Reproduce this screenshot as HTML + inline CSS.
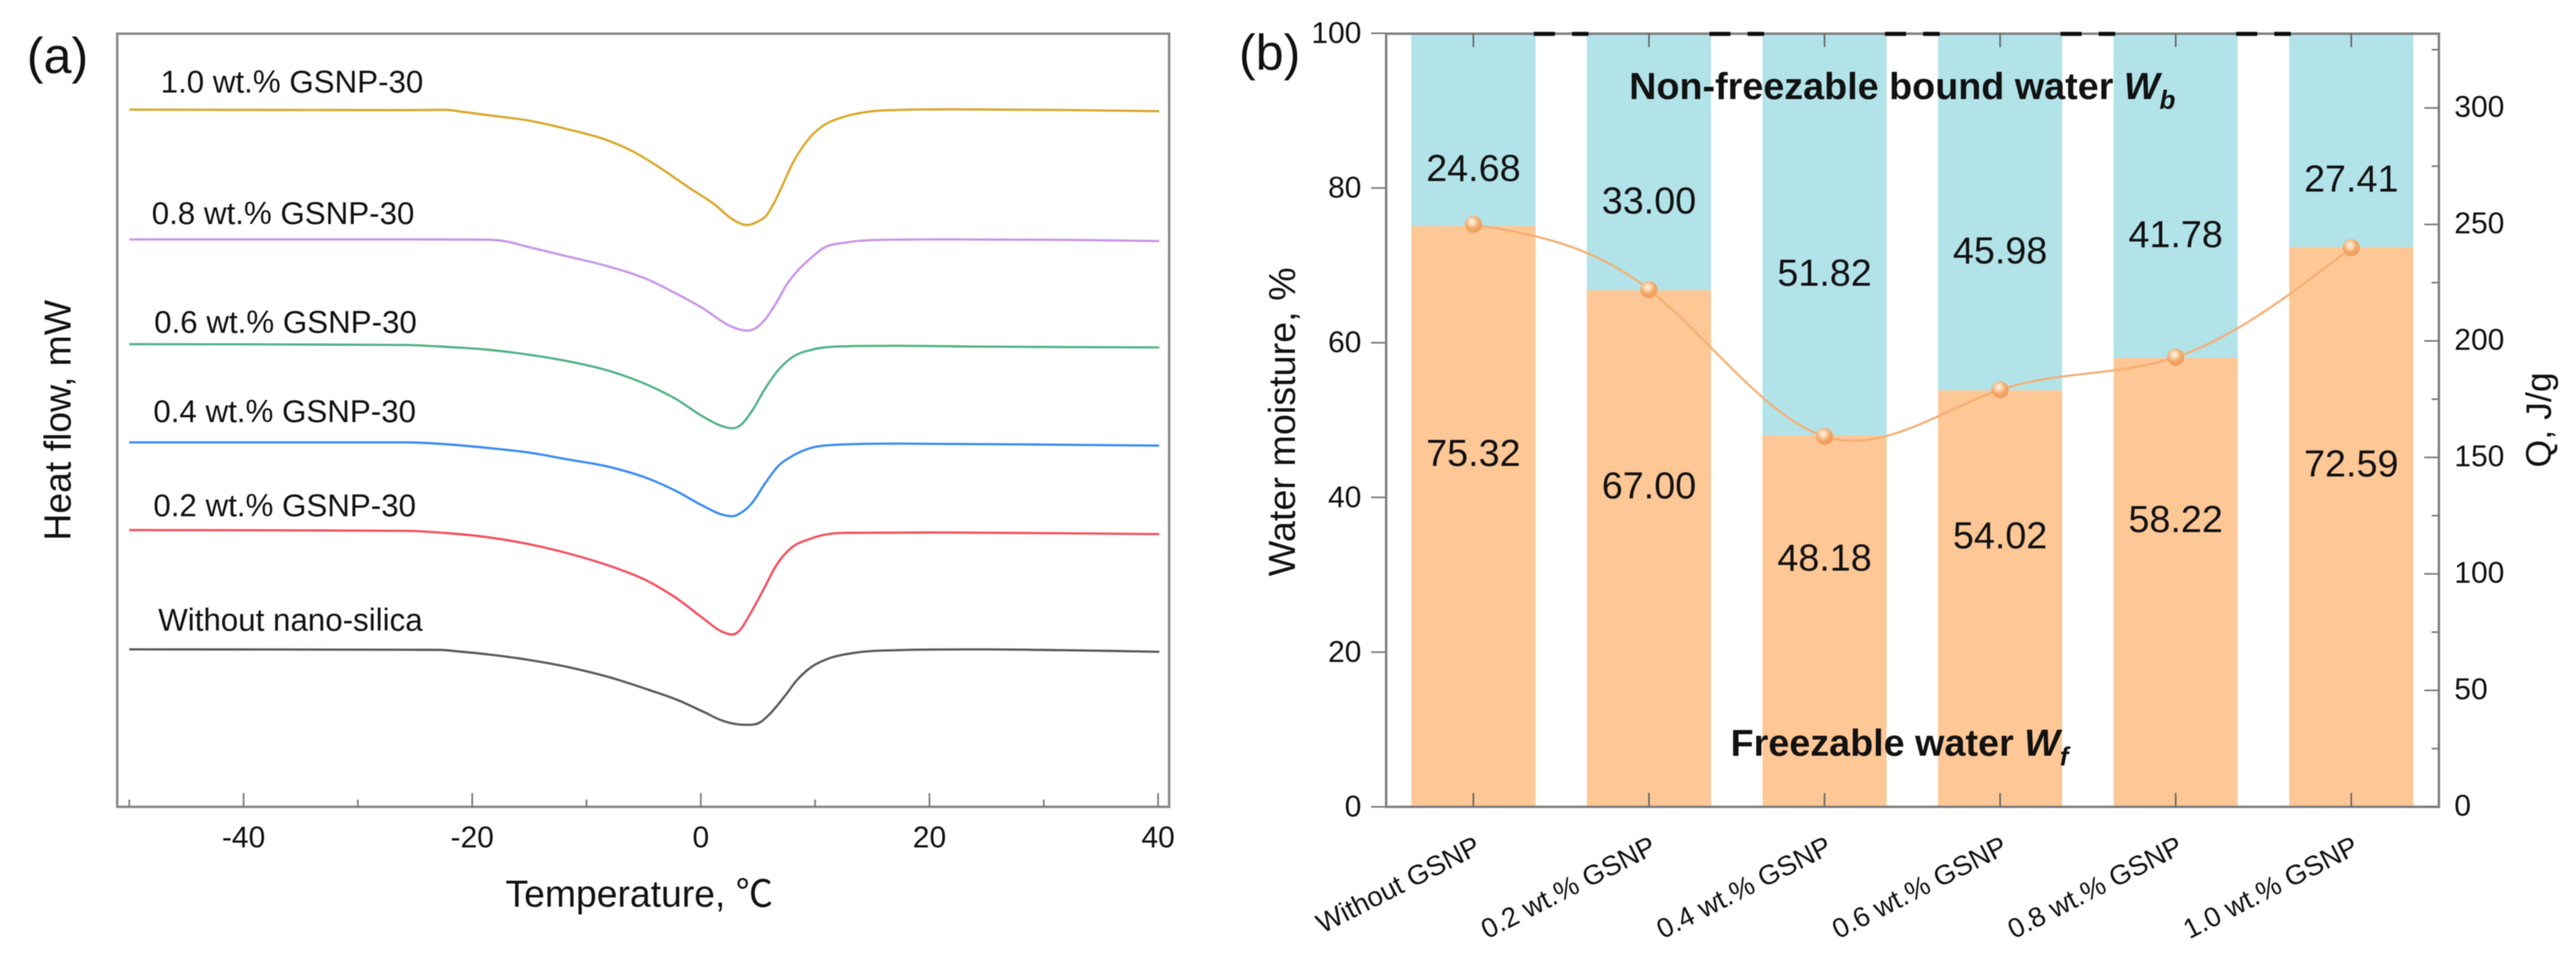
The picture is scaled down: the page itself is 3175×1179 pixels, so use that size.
<!DOCTYPE html>
<html lang="en">
<head>
<meta charset="utf-8">
<title>Heat flow curves and water moisture chart</title>
<style>
html,body{margin:0;padding:0;background:#fff;width:3175px;height:1179px;overflow:hidden}
svg{display:block;filter:blur(0.6px)}
text{font-family:"Liberation Sans","Noto Sans CJK SC",sans-serif;fill:#111}
</style>
</head>
<body>
<svg id="fig" xmlns="http://www.w3.org/2000/svg" width="3175" height="1179" viewBox="0 0 3175 1179">
  <defs>
    <radialGradient id="ball" cx="0.42" cy="0.35" r="0.65">
      <stop offset="0" stop-color="#fff6ea"/>
      <stop offset="0.28" stop-color="#fbd9b4"/>
      <stop offset="0.6" stop-color="#f3a868"/>
      <stop offset="1" stop-color="#ee9c58"/>
    </radialGradient>
  </defs>
  <g id="panelA"></g>
  <g id="panelB"></g>

  <text x="33" y="90" font-size="62">(a)</text>
  <text x="1527" y="86" font-size="62">(b)</text>

  <text x="623" y="1117" font-size="46">Temperature, ℃</text>
  <text transform="translate(87 666) rotate(-90)" font-size="46">Heat flow, mW</text>

  <text x="198" y="114" font-size="38.6">1.0 wt.% GSNP-30</text>
  <text x="187" y="276" font-size="38.6">0.8 wt.% GSNP-30</text>
  <text x="190" y="410" font-size="38.6">0.6 wt.% GSNP-30</text>
  <text x="189" y="520" font-size="38.6">0.4 wt.% GSNP-30</text>
  <text x="189" y="636" font-size="38.6">0.2 wt.% GSNP-30</text>
  <text x="195" y="777" font-size="38.6">Without nano-silica</text>

  <text transform="translate(1596 710) rotate(-90)" font-size="46.5">Water moisture, %</text>
  <text transform="translate(3144 576) rotate(-90)" font-size="44">Q, J/g</text>

  <text x="2008" y="122" font-size="46.5" font-weight="700">Non-freezable bound water <tspan font-style="italic">W</tspan><tspan font-style="italic" font-size="32" dy="12">b</tspan></text>
  <text x="2133" y="931" font-size="46.5" font-weight="700">Freezable water <tspan font-style="italic">W</tspan><tspan font-style="italic" font-size="32" dy="12">f</tspan></text>
</svg>

<script>
// Panel (a): heat flow curves (temperature in deg C, heat flow in arbitrary mW units)
const tempBlack  = [-50,-25.82,-22.74,-21.09,-18.72,-15.17,-11.63,-8.08,-4.53,-2.16,0.2,1.86,3.04,4.04,5.17,6.12,7.3,8.48,9.67,11.04,13.57,17.2,24.4,31.7,40.1];
const flowBlack  = [1.94,1.935,1.933,1.913,1.88,1.813,1.723,1.6,1.44,1.323,1.173,1.063,1.02,1.01,1.04,1.157,1.357,1.573,1.723,1.82,1.90,1.93,1.94,1.93,1.91];
const tempRed    = [-50,-25.82,-22.27,-18.72,-15.17,-11.63,-8.08,-4.53,-2.16,0.2,1.86,2.76,3.4,4.23,5.41,6.59,7.77,9.67,12.49,20.82,31.7,40.1];
const flowRed    = [3.41,3.40,3.373,3.323,3.24,3.123,2.973,2.773,2.573,2.323,2.157,2.123,2.173,2.357,2.657,2.973,3.173,3.307,3.375,3.38,3.37,3.36];
const tempBlue   = [-50,-25.82,-22.27,-18.72,-15.17,-11.63,-8.08,-4.53,-2.16,0.2,1.86,2.76,3.52,4.46,5.64,6.83,8.01,9.67,11.76,17.2,28.06,40.1];
const flowBlue   = [4.49,4.49,4.467,4.423,4.367,4.28,4.19,4.04,3.89,3.707,3.6,3.58,3.623,3.74,3.99,4.207,4.323,4.423,4.46,4.475,4.465,4.45];
const tempGreen  = [-50,-25.82,-22.27,-18.72,-15.17,-11.63,-8.08,-4.53,-2.16,0.2,1.86,2.76,3.52,4.46,5.64,6.83,8.01,9.67,11.76,17.2,24.4,40.1];
const flowGreen  = [5.70,5.69,5.667,5.633,5.573,5.49,5.373,5.19,5.023,4.807,4.69,4.663,4.707,4.873,5.157,5.39,5.54,5.63,5.67,5.68,5.67,5.66];
const tempPurple = [-50,-25.82,-18.72,-17.3,-15.17,-11.63,-8.08,-4.53,-2.16,0.2,2.57,3.4,3.99,4.7,5.64,6.59,7.54,8.48,9.67,10.68,12.85,15.75,20.82,31.7,40.1];
const flowPurple = [6.99,6.99,6.987,6.973,6.90,6.78,6.657,6.49,6.323,6.14,5.923,5.88,5.867,5.89,6.007,6.207,6.44,6.607,6.767,6.88,6.955,6.985,6.99,6.985,6.97];
const tempYellow = [-50,-25.82,-22.27,-21.09,-18.72,-15.17,-11.63,-8.08,-5.71,-3.58,-0.98,1.39,2.57,3.52,4.04,4.93,5.76,6.47,7.3,8.01,8.96,9.67,10.68,12.49,15.02,17.2,21.9,31.7,40.1];
const flowYellow = [8.59,8.583,8.587,8.567,8.523,8.457,8.347,8.207,8.057,7.873,7.623,7.40,7.257,7.183,7.167,7.207,7.29,7.457,7.707,7.923,8.14,8.267,8.39,8.50,8.57,8.585,8.593,8.585,8.57];
const tempMajorTicks = [-40,-20,0,20,40];
const tempMinorTicks = [-50,-30,-10,10,30];

// Panel (b): stacked bars and Q line
const categories = ["Without GSNP","0.2 wt.% GSNP","0.4 wt.% GSNP","0.6 wt.% GSNP","0.8 wt.% GSNP","1.0 wt.% GSNP"];
const freezable  = [75.32,67.00,48.18,54.02,58.22,72.59];
const bound      = [24.68,33.00,51.82,45.98,41.78,27.41];
const qValues    = [250,222,159,179,193,240];
const moistureTicks = [0,20,40,60,80,100];
const qMajorTicks = [0,50,100,150,200,250,300];
const qMinorTicks = [25,75,125,175,225,275,325];

const SVGNS = 'http://www.w3.org/2000/svg';
const panelA = document.getElementById('panelA');
const panelB = document.getElementById('panelB');

function make(tag, attrs, parent) {
  const el = document.createElementNS(SVGNS, tag);
  for (const k in attrs) el.setAttribute(k, attrs[k]);
  parent.appendChild(el);
  return el;
}

// Axis functions, panel (a)
const xTemp = t => 863.8 + 14.09 * t;
const yFlow = v => 994 - 100 * v;
// Axis functions, panel (b)
const xCat = i => 1816 + 216.4 * i;
const yMoist = v => 994 - 9.5 * v;
const yQ = v => 994 - 2.87 * v;
const BAR_W = 153;

// Monotone cubic through screen points (x strictly increasing), so no loops or overshoot
function smoothPath(pts) {
  const n = pts.length, h = [], d = [], m = [];
  for (let i = 0; i < n - 1; i++) {
    h.push(pts[i + 1][0] - pts[i][0]);
    d.push((pts[i + 1][1] - pts[i][1]) / h[i]);
  }
  m[0] = d[0];
  m[n - 1] = d[n - 2];
  for (let i = 1; i < n - 1; i++) {
    if (d[i - 1] * d[i] <= 0) { m[i] = 0; continue; }
    const raw = (d[i - 1] * h[i] + d[i] * h[i - 1]) / (h[i - 1] + h[i]);
    const lim = 3 * Math.min(Math.abs(d[i - 1]), Math.abs(d[i]));
    m[i] = Math.sign(raw) * Math.min(Math.abs(raw), lim);
  }
  let path = 'M' + pts[0][0].toFixed(1) + ' ' + pts[0][1].toFixed(1);
  for (let i = 0; i < n - 1; i++) {
    const c1x = pts[i][0] + h[i] / 3, c1y = pts[i][1] + m[i] * h[i] / 3;
    const c2x = pts[i + 1][0] - h[i] / 3, c2y = pts[i + 1][1] - m[i + 1] * h[i] / 3;
    path += 'C' + c1x.toFixed(1) + ' ' + c1y.toFixed(1) + ' ' + c2x.toFixed(1) + ' ' + c2y.toFixed(1) + ' ' + pts[i + 1][0].toFixed(1) + ' ' + pts[i + 1][1].toFixed(1);
  }
  return path;
}

// Natural cubic spline sampling for the Q line
function splinePoints(xs, ys) {
  const n = xs.length, h = [], a = [], l = [1], mu = [0], z = [0], c = new Array(n).fill(0), b = [], d = [];
  for (let i = 0; i < n - 1; i++) h.push(xs[i + 1] - xs[i]);
  for (let i = 1; i < n - 1; i++) a[i] = 3 * (ys[i + 1] - ys[i]) / h[i] - 3 * (ys[i] - ys[i - 1]) / h[i - 1];
  for (let i = 1; i < n - 1; i++) {
    l[i] = 2 * (xs[i + 1] - xs[i - 1]) - h[i - 1] * mu[i - 1];
    mu[i] = h[i] / l[i];
    z[i] = (a[i] - h[i - 1] * z[i - 1]) / l[i];
  }
  for (let j = n - 2; j >= 0; j--) {
    c[j] = (j === 0 ? 0 : z[j] - mu[j] * c[j + 1]);
    b[j] = (ys[j + 1] - ys[j]) / h[j] - h[j] * (c[j + 1] + 2 * c[j]) / 3;
    d[j] = (c[j + 1] - c[j]) / (3 * h[j]);
  }
  const out = [];
  for (let j = 0; j < n - 1; j++) {
    for (let s = 0; s < 24; s++) {
      const t = h[j] * s / 24;
      out.push([xs[j] + t, ys[j] + b[j] * t + c[j] * t * t + d[j] * t * t * t]);
    }
  }
  out.push([xs[n - 1], ys[n - 1]]);
  return out;
}

/* ---------- Panel (a) ---------- */
const frameA = make('rect', {x:144.5, y:41.5, width:1296.5, height:952.5, fill:'none', stroke:'#8a8a8a', 'stroke-width':3}, panelA);



tempMajorTicks.forEach(t => {
  const tick = make('line', {x1:xTemp(t), x2:xTemp(t), y1:994, y2:977, stroke:'#777', 'stroke-width':2}, panelA);
  
  
  const label = make('text', {x:xTemp(t), y:1044, 'text-anchor':'middle', 'font-size':37}, panelA);
  
  
  label.textContent = String(t);
});
tempMinorTicks.forEach(t => {
  const tick = make('line', {x1:xTemp(t), x2:xTemp(t), y1:994, y2:985, stroke:'#777', 'stroke-width':2}, panelA);
  
  
});

function drawCurve(temps, flows, color, name) {
  const pts = temps.map((t, i) => [xTemp(t), yFlow(flows[i])]);
  const p = make('path', {d:smoothPath(pts), fill:'none', stroke:color, 'stroke-width':2.8, 'stroke-linejoin':'round'}, panelA);
  
  
}
drawCurve(tempBlack, flowBlack, '#5a5a5a', 'curve-without-nano-silica');
drawCurve(tempRed, flowRed, '#f4505f', 'curve-0-2-wt');
drawCurve(tempBlue, flowBlue, '#3a8cf0', 'curve-0-4-wt');
drawCurve(tempGreen, flowGreen, '#52b285', 'curve-0-6-wt');
drawCurve(tempPurple, flowPurple, '#c995e8', 'curve-0-8-wt');
drawCurve(tempYellow, flowYellow, '#dba72a', 'curve-1-0-wt');

/* ---------- Panel (b) ---------- */
categories.forEach((c, i) => {
  const cx = xCat(i);
  const lower = make('rect', {x:cx - BAR_W / 2, y:yMoist(freezable[i]), width:BAR_W, height:994 - yMoist(freezable[i]), fill:'#fdc796'}, panelB);
  
  
  const top = yMoist(freezable[i] + bound[i]) - 3;
  const upper = make('rect', {x:cx - BAR_W / 2, y:top, width:BAR_W, height:yMoist(freezable[i]) - top, fill:'#b2e3e9'}, panelB);
  
  
});

const frameB = make('path', {d:'M1708.5 994V41.5H3006V994Z', fill:'none', stroke:'#808080', 'stroke-width':3}, panelB);



for (let i = 0; i < categories.length - 1; i++) {
  const dash = make('line', {x1:xCat(i) + BAR_W / 2 - 2, x2:xCat(i + 1) - BAR_W / 2 + 2, y1:41.7, y2:41.7, stroke:'#0c0c0c', 'stroke-width':5, 'stroke-dasharray':'26 21'}, panelB);
  
  
}

const yScaleTop = v => 994 - 9.53 * v;
moistureTicks.forEach(v => {
  const tick = make('line', {x1:1690, x2:1708, y1:yScaleTop(v), y2:yScaleTop(v), stroke:'#777', 'stroke-width':2}, panelB);
  
  
  const label = make('text', {x:1678, y:yScaleTop(v) + 12, 'text-anchor':'end', 'font-size':37}, panelB);
  
  
  label.textContent = String(v);
});
qMajorTicks.forEach(v => {
  const tick = make('line', {x1:2988, x2:3006, y1:yQ(v), y2:yQ(v), stroke:'#777', 'stroke-width':2}, panelB);
  
  
  const label = make('text', {x:3025, y:yQ(v) + 11, 'font-size':37}, panelB);
  
  
  label.textContent = String(v);
});
qMinorTicks.forEach(v => {
  const tick = make('line', {x1:2997, x2:3006, y1:yQ(v), y2:yQ(v), stroke:'#777', 'stroke-width':2}, panelB);
  
  
});

categories.forEach((c, i) => {
  const cx = xCat(i);
  const t1 = make('line', {x1:cx, x2:cx, y1:994, y2:977, stroke:'#666', 'stroke-width':2}, panelB);
  
  
  const t2 = make('line', {x1:cx, x2:cx, y1:41, y2:58, stroke:'#666', 'stroke-width':2}, panelB);
  
  
  const label = make('text', {transform:'translate(' + (cx + 11) + ' 1050) rotate(-27)', 'text-anchor':'end', 'font-size':34}, panelB);
  
  
  label.textContent = c;

  const boundary = yMoist(freezable[i]);
  const upperMid = (boundary + yMoist(freezable[i] + bound[i])) / 2;
  const lowerMid = (boundary + yMoist(0)) / 2;
  const upText = make('text', {x:cx, y:upperMid + 62, 'text-anchor':'middle', 'font-size':46.5}, panelB);
  
  
  upText.textContent = bound[i].toFixed(2);
  const lowText = make('text', {x:cx, y:lowerMid - 62, 'text-anchor':'middle', 'font-size':46.5}, panelB);
  
  
  lowText.textContent = freezable[i].toFixed(2);
});

const qPts = splinePoints(categories.map((c, i) => xCat(i)), qValues.map(yQ));
const qLine = make('path', {d:'M' + qPts.map(p => p[0].toFixed(1) + ' ' + p[1].toFixed(1)).join('L'), fill:'none', stroke:'#f5ae72', 'stroke-width':2.6}, panelB);


qValues.forEach((v, i) => {
  const dot = make('circle', {cx:xCat(i), cy:yQ(v), r:10.5, fill:'url(#ball)'}, panelB);
  
  
});
</script>
</body>
</html>
